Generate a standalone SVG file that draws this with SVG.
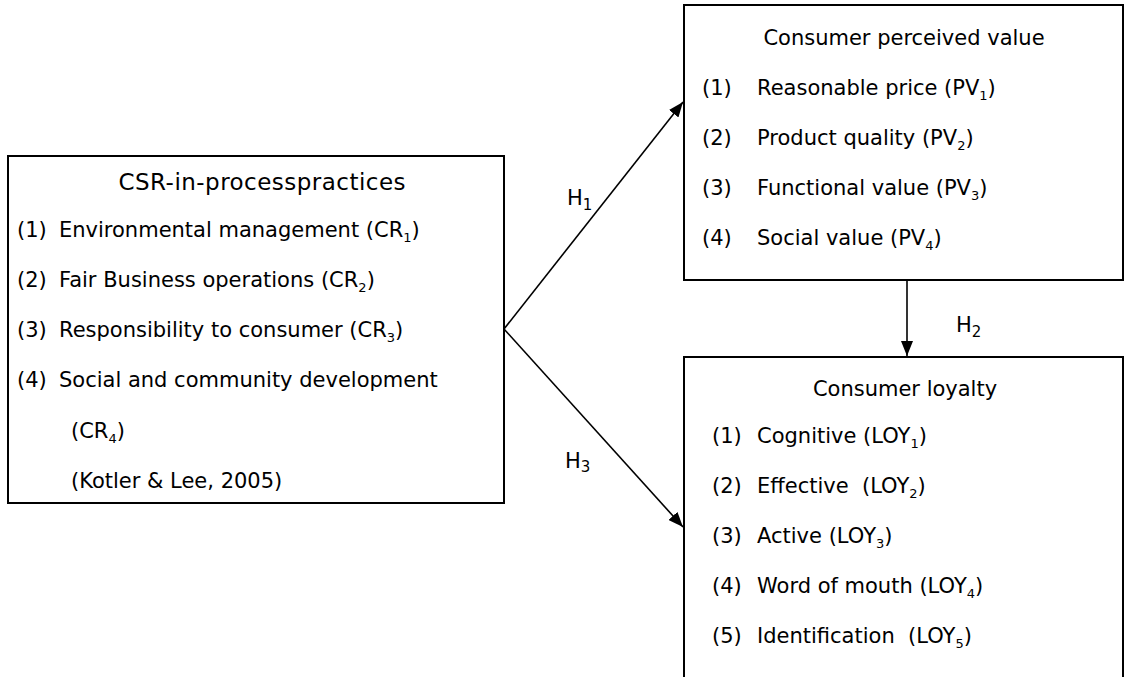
<svg xmlns="http://www.w3.org/2000/svg" width="1124" height="677" viewBox="0 0 1124 677">
<style>
.box{fill:#fff;stroke:#000;stroke-width:2}
text{font-family:"DejaVu Sans",sans-serif;font-size:21px;fill:#000;white-space:pre}
.t{text-anchor:middle}
.big{font-size:23px}
.s{font-size:13px}
.h{font-size:15px}
.c{stroke:#000;stroke-width:1.6;fill:none}
</style>
<defs>
<marker id="ah" viewBox="0 0 15 12" refX="15" refY="6" markerWidth="15" markerHeight="12" markerUnits="userSpaceOnUse" orient="auto">
<path d="M0,0 L15,6 L0,12 Z" fill="#000"/>
</marker>
</defs>
<rect width="1124" height="677" fill="#fff"/>
<g id="csr">
<rect class="box" x="8" y="156" width="496" height="347"/>
<text class="t big" x="262" y="190" textLength="287" lengthAdjust="spacing">CSR-in-processpractices</text>
<text x="17" y="237">(1)</text><text x="59" y="237">Environmental management (CR<tspan class="s" dy="5">1</tspan><tspan dy="-5">)</tspan></text>
<text x="17" y="287">(2)</text><text x="59" y="287">Fair Business operations (CR<tspan class="s" dy="5">2</tspan><tspan dy="-5">)</tspan></text>
<text x="17" y="337">(3)</text><text x="59" y="337">Responsibility to consumer (CR<tspan class="s" dy="5">3</tspan><tspan dy="-5">)</tspan></text>
<text x="17" y="387">(4)</text><text x="59" y="387">Social and community development</text>
<text x="71" y="438">(CR<tspan class="s" dy="5">4</tspan><tspan dy="-5">)</tspan></text>
<text x="71" y="488">(Kotler &amp; Lee, 2005)</text>
</g>
<g id="value">
<rect class="box" x="684" y="5" width="439" height="275"/>
<text class="t" x="904" y="45">Consumer perceived value</text>
<text x="702" y="95">(1)</text><text x="757" y="95">Reasonable price (PV<tspan class="s" dy="5">1</tspan><tspan dy="-5">)</tspan></text>
<text x="702" y="145">(2)</text><text x="757" y="145">Product quality (PV<tspan class="s" dy="5">2</tspan><tspan dy="-5">)</tspan></text>
<text x="702" y="195">(3)</text><text x="757" y="195">Functional value (PV<tspan class="s" dy="5">3</tspan><tspan dy="-5">)</tspan></text>
<text x="702" y="245">(4)</text><text x="757" y="245">Social value (PV<tspan class="s" dy="5">4</tspan><tspan dy="-5">)</tspan></text>
</g>
<g id="loyalty">
<rect class="box" x="684" y="357" width="439" height="340"/>
<text class="t" x="905" y="396">Consumer loyalty</text>
<text x="712" y="443">(1)</text><text x="757" y="443">Cognitive (LOY<tspan class="s" dy="5">1</tspan><tspan dy="-5">)</tspan></text>
<text x="712" y="493">(2)</text><text x="757" y="493">Effective  (LOY<tspan class="s" dy="5">2</tspan><tspan dy="-5">)</tspan></text>
<text x="712" y="543">(3)</text><text x="757" y="543">Active (LOY<tspan class="s" dy="5">3</tspan><tspan dy="-5">)</tspan></text>
<text x="712" y="593">(4)</text><text x="757" y="593">Word of mouth (LOY<tspan class="s" dy="5">4</tspan><tspan dy="-5">)</tspan></text>
<text x="712" y="643">(5)</text><text x="757" y="643">Identification  (LOY<tspan class="s" dy="5">5</tspan><tspan dy="-5">)</tspan></text>
</g>
<g id="connectors">
<line class="c" x1="504" y1="329" x2="683" y2="102" marker-end="url(#ah)"/>
<line class="c" x1="504" y1="329" x2="683" y2="527" marker-end="url(#ah)"/>
<line class="c" x1="907" y1="281" x2="907" y2="356" marker-end="url(#ah)"/>
<text x="567" y="205">H<tspan class="h" dy="5">1</tspan></text>
<text x="565" y="468">H<tspan class="h" dy="4">3</tspan></text>
<text x="956" y="332">H<tspan class="h" dy="5">2</tspan></text>
</g>
</svg>
